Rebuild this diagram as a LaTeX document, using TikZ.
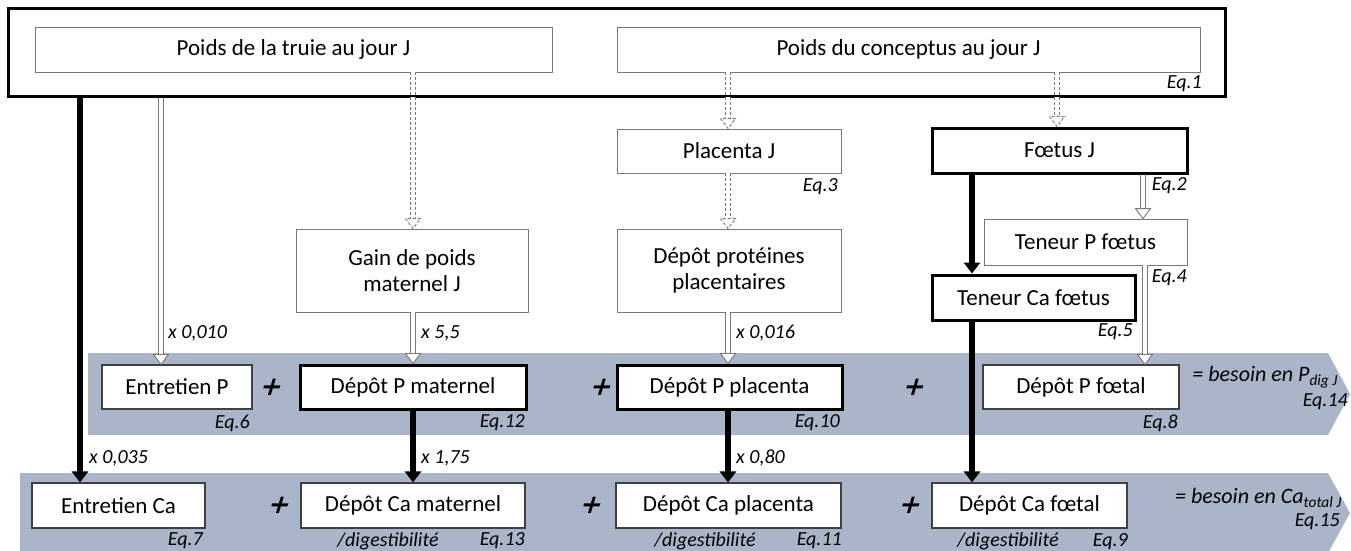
\documentclass[tikz,border=0pt]{standalone}
\usepackage{fontspec}
\setmainfont{Carlito}
\newfontfamily\plusfont{DejaVu Sans}
\usetikzlibrary{calc,arrows.meta}
\definecolor{bandc}{RGB}{170,181,201}
\definecolor{lgray}{RGB}{120,120,120}
\newcommand\holarr[3][]{%
  \draw[hshaft,#1] (#2) -- ($(#3)+(0,-9)$);
  \draw[hhead,#1] ($(#3)+(-7.5,-10)$) -- (#3) -- ($(#3)+(7.5,-10)$) -- cycle;}
\begin{document}
\begin{tikzpicture}[x=1pt,y=-1pt,
  font=\fontsize{23}{26}\selectfont,
  base/.style={inner sep=0pt, fill=white, align=center},
  box/.style={base, draw=black!75, line width=1.1pt},
  tbox/.style={base, draw=lgray, line width=0.9pt},
  kbox/.style={base, draw=black, line width=3pt},
  eq/.style={font=\fontsize{20}{24}\selectfont\itshape, inner sep=0pt, anchor=east},
  eqc/.style={font=\fontsize{20}{24}\selectfont\itshape, inner sep=0pt},
  beq/.style={font=\fontsize{22}{24}\selectfont\itshape, inner sep=0pt, anchor=east},
  lab/.style={font=\fontsize{20}{24}\selectfont\itshape, inner sep=0pt, anchor=west},
  plus/.style={font=\plusfont\bfseries\fontsize{26}{26}\selectfont, inner sep=0pt, xslant=0.3, transform shape},
  thk/.style={line width=5.5pt, -{Triangle[width=16pt,length=11pt]}},
  hshaft/.style={draw=lgray, line width=0.9pt, double=white, double distance=4.2pt},
  hhead/.style={draw=lgray, line width=0.9pt, fill=white, line join=miter},
  dsh/.style={dash pattern=on 3pt off 2pt}]
\useasboundingbox (0,0) rectangle (1351,551);
\clip (0,0) rectangle (1351,551);
% bands
\fill[bandc] (88,353) -- (1328,353) -- (1350,394) -- (1328,435) -- (88,435) -- cycle;
\fill[bandc] (20,473) -- (1328,473) -- (1350,513) -- (1328,553) -- (20,553) -- cycle;
% top
\node[kbox, minimum width=1217pt, minimum height=87pt] (outer) at (616.5,52.5) {};
\node[tbox, minimum width=517pt, minimum height=45pt] (A) at (293.5,49.5) {Poids de la truie au jour J};
\node[tbox, minimum width=583pt, minimum height=45pt] (B) at (908.5,49.5) {Poids du conceptus au jour J};
\node[eq] (eq1) at (1202,84) {Eq.1};
% middle
\node[tbox, minimum width=224pt, minimum height=44pt] (plac) at (729,151) {Placenta J};
\node[eq] (eq3) at (838,187) {Eq.3};
\node[kbox, minimum width=255pt, minimum height=45pt] (foet) at (1059.5,150.5) {Fœtus J};
\node[eq] (eq2) at (1187,186) {Eq.2};
\node[tbox, minimum width=203pt, minimum height=46pt] (tenP) at (1085.5,242) {Teneur P fœtus};
\node[eq] (eq4) at (1187,278) {Eq.4};
\node[kbox, minimum width=203pt, minimum height=45pt] (tenCa) at (1033.5,297.5) {Teneur Ca fœtus};
\node[eq] (eq5) at (1133,332) {Eq.5};
\node[tbox, minimum width=232pt, minimum height=83pt] (gain) at (412,270.5) {Gain de poids\\maternel J};
\node[tbox, minimum width=224pt, minimum height=83pt] (prot) at (729,270.5) {Dépôt protéines\\placentaires};
% row 1
\node[box, minimum width=150pt, minimum height=44pt] (eP) at (177,387) {Entretien P};
\node[kbox, minimum width=226pt, minimum height=44pt] (dPm) at (413,387) {Dépôt P maternel};
\node[kbox, minimum width=225pt, minimum height=44pt] (dPp) at (729.5,387) {Dépôt P placenta};
\node[box, minimum width=196pt, minimum height=44pt] (dPf) at (1081,387) {Dépôt P fœtal};
\node[eq] (eq6) at (250,423) {Eq.6};
\node[eq] (eq12) at (525,423) {Eq.12};
\node[eq] (eq10) at (840,423) {Eq.10};
\node[eq] (eq8) at (1178,423) {Eq.8};
\node[plus] (p1) at (272,387) {+};
\node[plus] (p2) at (602,387) {+};
\node[plus] (p3) at (915,387) {+};
\node[beq] (bP) at (1338,377) {= besoin en P\textsubscript{dig J}};
\node[eq] (eq14) at (1348,402) {Eq.14};
% row 2
\node[box, minimum width=173pt, minimum height=45pt] (eCa) at (118.5,505.5) {Entretien Ca};
\node[box, minimum width=224pt, minimum height=45pt] (dCm) at (413,505.5) {Dépôt Ca maternel};
\node[box, minimum width=225pt, minimum height=45pt] (dCp) at (728.5,505.5) {Dépôt Ca placenta};
\node[box, minimum width=195pt, minimum height=45pt] (dCf) at (1029.5,505.5) {Dépôt Ca fœtal};
\node[eq] (eq7) at (203,541) {Eq.7};
\node[eq] (eq13) at (525,541) {Eq.13};
\node[eq] (eq11) at (842,541) {Eq.11};
\node[eq] (eq9) at (1128,542) {Eq.9};
\node[eqc] (dg1) at (388,541) {/digestibilité};
\node[eqc] (dg2) at (705,541) {/digestibilité};
\node[eqc] (dg3) at (1008,541) {/digestibilité};
\node[plus] (p4) at (280,505) {+};
\node[plus] (p5) at (592,505) {+};
\node[plus] (p6) at (911,505) {+};
\node[beq] (bCa) at (1342,498) {= besoin en Ca\textsubscript{total J}};
\node[eq] (eq15) at (1340,522) {Eq.15};
% arrow columns
\coordinate (x80) at (80,0);
\coordinate (x161) at (161,0);
\coordinate (x413) at (413,0);
\coordinate (x728) at (728,0);
\coordinate (x972) at (972,0);
\coordinate (x1057) at (1057,0);
\coordinate (x1143) at (1143,0);
\coordinate (x1145) at (1145,0);
% connectors
\draw[thk] (outer.south -| x80) -- (eCa.north -| x80);
\holarr{outer.south -| x161}{eP.north -| x161}
\holarr[dsh]{A.south -| x413}{gain.north -| x413}
\holarr[dsh]{B.south -| x728}{plac.north -| x728}
\holarr[dsh]{B.south -| x1057}{foet.north -| x1057}
\holarr[dsh]{plac.south -| x728}{prot.north -| x728}
\holarr{foet.south -| x1143}{tenP.north -| x1143}
\draw[thk] (foet.south -| x972) -- (tenCa.north -| x972);
\holarr{tenP.south -| x1145}{dPf.north -| x1145}
\draw[thk] (tenCa.south -| x972) -- (dCf.north -| x972);
\holarr{gain.south -| x413}{dPm.north -| x413}
\holarr{prot.south -| x728}{dPp.north -| x728}
\draw[thk] (dPm.south -| x413) -- (dCm.north -| x413);
\draw[thk] (dPp.south -| x728) -- (dCp.north -| x728);
% labels
\node[lab] (l1) at (168,333) {x 0,010};
\node[lab] (l2) at (421,333) {x 5,5};
\node[lab] (l3) at (736,333) {x 0,016};
\node[lab] (l4) at (89,458) {x 0,035};
\node[lab] (l5) at (421,458) {x 1,75};
\node[lab] (l6) at (736,458) {x 0,80};
\end{tikzpicture}
\end{document}
